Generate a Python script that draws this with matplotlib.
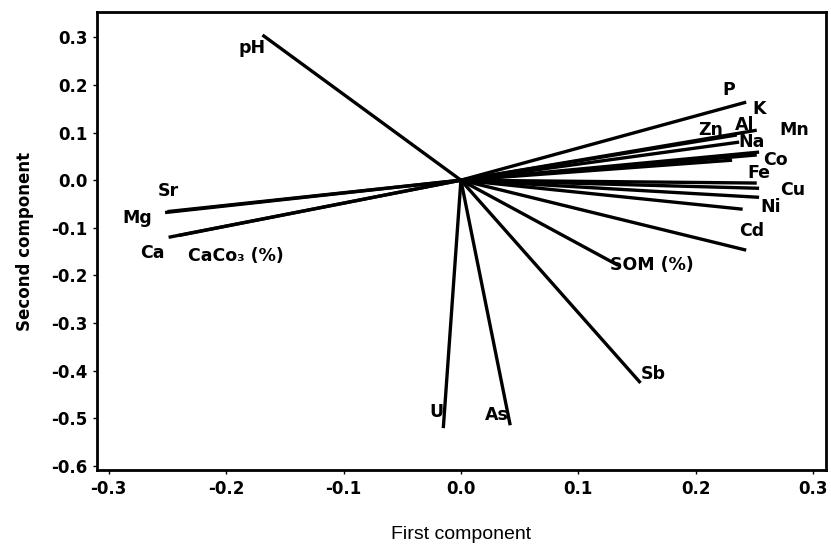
import matplotlib
matplotlib.use("Agg")
import matplotlib.pyplot as plt

# loadings (end points of vectors)
variables = ["pH", "P", "K", "Zn", "Al", "Mn", "Na", "Co", "Fe", "", "Cu", "Ni", "Cd",
             "SOM (%)", "Sb", "As", "U", "Sr", "Mg", "Ca", "CaCo\u2083 (%)"]
pc1 = [-0.169, 0.243, 0.252, 0.235, 0.237, 0.254, 0.252, 0.231, 0.252, 0.254, 0.254, 0.240, 0.243,
       0.134, 0.153, 0.042, -0.015, -0.250, -0.252, -0.249, -0.240]
pc2 = [0.305, 0.164, 0.105, 0.095, 0.080, 0.059, 0.053, 0.042, -0.006, -0.017, -0.036, -0.061, -0.147,
       -0.179, -0.426, -0.515, -0.521, -0.066, -0.068, -0.120, -0.116]
# label anchor positions
lab_x = [-0.178, 0.228, 0.254, 0.213, 0.242, 0.284, 0.248, 0.268, 0.254, 0.0, 0.283, 0.264, 0.248,
         0.163, 0.164, 0.031, -0.021, -0.249, -0.276, -0.263, -0.192]
lab_y = [0.277, 0.189, 0.149, 0.105, 0.116, 0.105, 0.080, 0.042, 0.015, 0.0, -0.021, -0.057, -0.107,
         -0.179, -0.408, -0.494, -0.487, -0.023, -0.080, -0.153, -0.160]

xticks = [-0.3, -0.2, -0.1, 0.0, 0.1, 0.2, 0.3]
yticks = [0.3, 0.2, 0.1, 0.0, -0.1, -0.2, -0.3, -0.4, -0.5, -0.6]

fig = plt.figure(figsize=(8.31, 5.54), dpi=100)
ax = fig.add_axes([0.1167, 0.1516, 0.8773, 0.8264])

for x, y in zip(pc1, pc2):
    ax.plot([0, x], [0, y], color="black", lw=2.4, solid_capstyle="butt")
for name, lx, ly in zip(variables, lab_x, lab_y):
    if name:
        ax.text(lx, ly, name, ha="center", va="center", fontsize=12.5,
                fontweight="bold", family="DejaVu Sans")

ax.set_xlim(-0.31, 0.311)
ax.set_ylim(-0.609, 0.353)
ax.set_xticks(xticks)
ax.set_yticks(yticks)
ax.set_xticklabels([f"{t:.1f}" for t in xticks])
ax.set_yticklabels([f"{t:.1f}" for t in yticks])
for lbl in ax.get_xticklabels() + ax.get_yticklabels():
    lbl.set_fontweight("bold")
    lbl.set_fontsize(12)
ax.tick_params(direction="out", length=3, width=1, pad=4)
for s in ax.spines.values():
    s.set_linewidth(2)

ax.set_xlabel("First component", fontsize=14, family="Liberation Sans", labelpad=20)
ax.set_ylabel("Second component", fontsize=12, fontweight="bold", labelpad=12)

fig.savefig("out.png", dpi=100)
